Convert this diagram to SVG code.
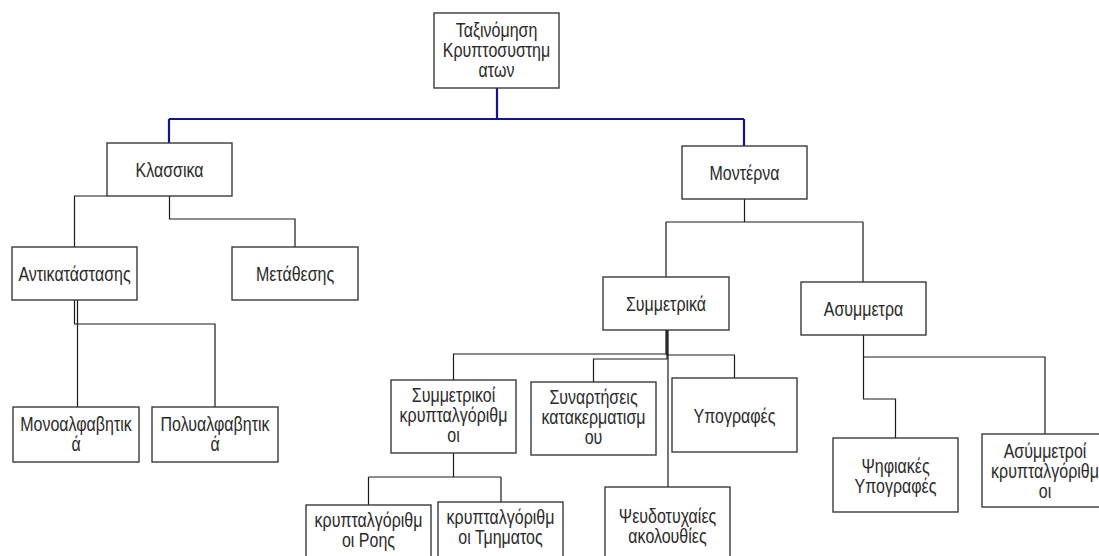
<svg xmlns="http://www.w3.org/2000/svg" width="1099" height="556" viewBox="0 0 1099 556">
  <style>
    .box { fill: #ffffff; stroke: #3a3a3a; stroke-width: 1.4; }
    .lbl { font-family: "Liberation Sans", Arial, sans-serif; font-size: 16px; fill: #2a2a2a; text-anchor: middle; }
    .wire { fill: none; stroke: #1a1a1a; stroke-width: 1.2; }
    .top { fill: none; stroke: #141490; stroke-width: 2.2; }
  </style>
  <rect width="1099" height="556" fill="#ffffff"/>

  <!-- connectors -->
  <g id="connectors">
    <path class="top" d="M497,88 V119 M169,119 H744 M169,119 V143 M744,119 V146"/>
    <path class="wire" d="M107,196 H74.5 V247 M169.5,196 V219 H295 V247"/>
    <path class="wire" d="M74.5,300 V324 H215 V407 M77.5,300 V407"/>
    <path class="wire" d="M744.5,199 V222 M666,222 H863 M666,222 V277 M863,222 V282"/>
    <path class="wire" d="M666,330 V354 H453.5 V380"/>
    <path class="wire" d="M667,330 V359 H593.5 V382"/>
    <path class="wire" d="M667,330 V355 H734.5 V378"/>
    <path class="wire" d="M668,330 V487"/>
    <path class="wire" d="M453.5,453 V477 M368.5,477 H501 M368.5,477 V505 M501,477 V502"/>
    <path class="wire" d="M863.5,335 V399 H895.5 V438 M863.5,357 H1045 V434"/>
  </g>

  <g id="root">
    <rect class="box" x="434" y="13" width="125" height="75"/>
    <text class="lbl" transform="translate(496.5,37) scale(1,1.22)">Ταξινόμηση</text>
    <text class="lbl" transform="translate(496.5,57) scale(1,1.22)">Κρυπτοσυστημ</text>
    <text class="lbl" transform="translate(496.5,77) scale(1,1.22)">ατων</text>
  </g>

  <g id="klassika">
    <rect class="box" x="107" y="143" width="125" height="53"/>
    <text class="lbl" transform="translate(169.5,177) scale(1,1.22)">Κλασσικα</text>
  </g>

  <g id="monterna">
    <rect class="box" x="682" y="146" width="125" height="53"/>
    <text class="lbl" transform="translate(744.5,180) scale(1,1.22)">Μοντέρνα</text>
  </g>

  <g id="antikatastasis">
    <rect class="box" x="12" y="247" width="125" height="53"/>
    <text class="lbl" transform="translate(74.5,281) scale(1,1.22)">Αντικατάστασης</text>
  </g>

  <g id="metathesis">
    <rect class="box" x="232" y="247" width="126" height="53"/>
    <text class="lbl" transform="translate(295,281) scale(1,1.22)">Μετάθεσης</text>
  </g>

  <g id="monoalfavitika">
    <rect class="box" x="13" y="407" width="126" height="55"/>
    <text class="lbl" transform="translate(76,431) scale(1,1.22)">Μονοαλφαβητικ</text>
    <text class="lbl" transform="translate(76,451) scale(1,1.22)">ά</text>
  </g>

  <g id="polyalfavitika">
    <rect class="box" x="152" y="407" width="126" height="55"/>
    <text class="lbl" transform="translate(215,431) scale(1,1.22)">Πολυαλφαβητικ</text>
    <text class="lbl" transform="translate(215,451) scale(1,1.22)">ά</text>
  </g>

  <g id="symmetrika">
    <rect class="box" x="603" y="277" width="126" height="53"/>
    <text class="lbl" transform="translate(666,311) scale(1,1.22)">Συμμετρικά</text>
  </g>

  <g id="asymmetra">
    <rect class="box" x="801" y="282" width="125" height="53"/>
    <text class="lbl" transform="translate(863.5,316) scale(1,1.22)">Ασυμμετρα</text>
  </g>

  <g id="symmetrikoi-krypt">
    <rect class="box" x="391" y="380" width="125" height="73"/>
    <text class="lbl" transform="translate(453.5,402) scale(1,1.22)">Συμμετρικοί</text>
    <text class="lbl" transform="translate(453.5,422) scale(1,1.22)">κρυπταλγόριθμ</text>
    <text class="lbl" transform="translate(453.5,442) scale(1,1.22)">οι</text>
  </g>

  <g id="synartiseis">
    <rect class="box" x="531" y="382" width="125" height="73"/>
    <text class="lbl" transform="translate(593.5,404) scale(1,1.22)">Συναρτήσεις</text>
    <text class="lbl" transform="translate(593.5,424) scale(1,1.22)">κατακερματισμ</text>
    <text class="lbl" transform="translate(593.5,444) scale(1,1.22)">ου</text>
  </g>

  <g id="ypografes">
    <rect class="box" x="672" y="378" width="125" height="74"/>
    <text class="lbl" transform="translate(734.5,423) scale(1,1.22)">Υπογραφές</text>
  </g>

  <g id="pseudotyxaies">
    <rect class="box" x="605" y="487" width="125" height="80"/>
    <text class="lbl" transform="translate(667.5,523) scale(1,1.22)">Ψευδοτυχαίες</text>
    <text class="lbl" transform="translate(667.5,543) scale(1,1.22)">ακολουθίες</text>
  </g>

  <g id="psifiakes">
    <rect class="box" x="833" y="438" width="125" height="74"/>
    <text class="lbl" transform="translate(895.5,473) scale(1,1.22)">Ψηφιακές</text>
    <text class="lbl" transform="translate(895.5,493) scale(1,1.22)">Υπογραφές</text>
  </g>

  <g id="asymmetroi-krypt">
    <rect class="box" x="982" y="434" width="126" height="73"/>
    <text class="lbl" transform="translate(1045,458) scale(1,1.22)">Ασύμμετροί</text>
    <text class="lbl" transform="translate(1045,478) scale(1,1.22)">κρυπταλγόριθμ</text>
    <text class="lbl" transform="translate(1045,498) scale(1,1.22)">οι</text>
  </g>

  <g id="roes">
    <rect class="box" x="306" y="505" width="125" height="70"/>
    <text class="lbl" transform="translate(368.5,527) scale(1,1.22)">κρυπταλγόριθμ</text>
    <text class="lbl" transform="translate(368.5,547) scale(1,1.22)">οι Ροης</text>
  </g>

  <g id="tmimatos">
    <rect class="box" x="438" y="502" width="125" height="70"/>
    <text class="lbl" transform="translate(500.5,524) scale(1,1.22)">κρυπταλγόριθμ</text>
    <text class="lbl" transform="translate(500.5,544) scale(1,1.22)">οι Τμηματος</text>
  </g>
</svg>
